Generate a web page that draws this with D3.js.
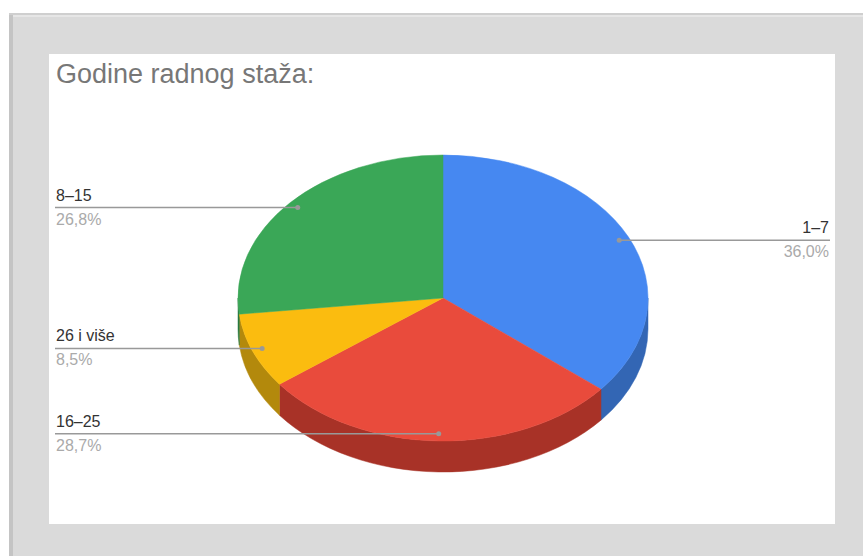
<!DOCTYPE html>
<html>
<head>
<meta charset="utf-8">
<script src="https://cdn.jsdelivr.net/npm/d3@7"></script>
<style>
  html, body { margin: 0; padding: 0; background: #ffffff; }
  svg { display: block; font-family: "Liberation Sans", Arial, sans-serif; }
</style>
</head>
<body>
<div id="chart"></div>
<script>
// Data
const categories = ['1–7', '16–25', '26 i više', '8–15'];
const shares = [36.0, 28.7, 8.5, 26.8];
const percentLabels = ['36,0%', '28,7%', '8,5%', '26,8%'];
const topColors = ['#4688f1', '#e94b3c', '#fbbc0f', '#3aa757'];
const sideColors = ['#3366b4', '#a83227', '#b3890c', '#2a7a40'];
const labelSide = ['right', 'left', 'left', 'left'];

const width = 863;
const height = 556;

const svg = d3.select('#chart')
    .append('svg')
    .attr('width', width)
    .attr('height', height);

// Gray frame around the chart card
svg.append('rect')
    .attr('x', 9).attr('y', 13)
    .attr('width', width - 9).attr('height', height - 13)
    .attr('fill', '#dadada');
svg.append('rect')
    .attr('x', 9).attr('y', 13)
    .attr('width', 4).attr('height', height - 13)
    .attr('fill', '#c4c4c4');
svg.append('rect')
    .attr('x', 9).attr('y', 13)
    .attr('width', width - 9).attr('height', 2)
    .attr('fill', '#cfcfcf');
svg.append('rect')
    .attr('x', 13).attr('y', 15)
    .attr('width', width - 13).attr('height', 2)
    .attr('fill', '#e6e6e6');

// White chart area
svg.append('rect')
    .attr('x', 49).attr('y', 54)
    .attr('width', 786).attr('height', 470)
    .attr('fill', '#ffffff');

// Title
svg.append('text')
    .attr('x', 56)
    .attr('y', 83)
    .attr('fill', '#777777')
    .style('font-size', '27px')
    .text('Godine radnog staža:');

// 3D pie geometry
const cx = 443, cy = 298;
const rx = 205, ry = 143;
const depth = 31;

// unit angle -> ellipse position, via scales
const xPos = d3.scaleLinear().domain([-1, 1]).range([cx - rx, cx + rx]);
const yPos = d3.scaleLinear().domain([-1, 1]).range([cy + ry, cy - ry]);
const pt = (a, dy = 0) => [xPos(Math.sin(a)), yPos(Math.cos(a)) + dy];

const pie = d3.pie().sort(null).value(d => d.value);
const slices = pie(shares.map((v, i) => ({ value: v, i })));

// Side walls (only the front half, angles PI/2..3PI/2)
const g = svg.append('g');
slices.forEach(s => {
    const b0 = Math.max(s.startAngle, Math.PI / 2);
    const b1 = Math.min(s.endAngle, 3 * Math.PI / 2);
    if (b1 <= b0) return;
    const p0 = pt(b0), p1 = pt(b1);
    const q0 = pt(b0, depth), q1 = pt(b1, depth);
    const path = `M${p0[0]},${p0[1]} A${rx},${ry} 0 0 1 ${p1[0]},${p1[1]}` +
        ` L${q1[0]},${q1[1]} A${rx},${ry} 0 0 0 ${q0[0]},${q0[1]} Z`;
    g.append('path')
        .attr('d', path)
        .attr('fill', sideColors[s.data.i])
        .attr('stroke', sideColors[s.data.i])
        .attr('stroke-width', 0.5);
});

// Top faces
slices.forEach(s => {
    const p0 = pt(s.startAngle), p1 = pt(s.endAngle);
    const large = (s.endAngle - s.startAngle) > Math.PI ? 1 : 0;
    const path = `M${cx},${cy} L${p0[0]},${p0[1]} A${rx},${ry} 0 ${large} 1 ${p1[0]},${p1[1]} Z`;
    g.append('path')
        .attr('d', path)
        .attr('fill', topColors[s.data.i])
        .attr('stroke', topColors[s.data.i])
        .attr('stroke-width', 0.5);
});

// Leader lines and labels
const leftX = 55, rightX = 830;
const labels = svg.append('g');
slices.forEach(s => {
    const i = s.data.i;
    const mid = (s.startAngle + s.endAngle) / 2;
    const dot = [xPos(0.95 * Math.sin(mid)), yPos(0.95 * Math.cos(mid))];
    const right = labelSide[i] === 'right';
    const endX = right ? rightX : leftX;

    labels.append('line')
        .attr('x1', dot[0]).attr('y1', dot[1])
        .attr('x2', endX).attr('y2', dot[1])
        .attr('stroke', '#999999')
        .attr('stroke-width', 1.5);
    labels.append('circle')
        .attr('cx', dot[0]).attr('cy', dot[1])
        .attr('r', 2.5)
        .attr('fill', '#999999');

    const tx = right ? rightX - 1 : leftX + 1;
    labels.append('text')
        .attr('x', tx)
        .attr('y', dot[1] - 7)
        .attr('text-anchor', right ? 'end' : 'start')
        .attr('fill', '#333333')
        .style('font-size', '16px')
        .text(categories[i]);
    labels.append('text')
        .attr('x', tx)
        .attr('y', dot[1] + 17)
        .attr('text-anchor', right ? 'end' : 'start')
        .attr('fill', '#aaaaaa')
        .style('font-size', '16px')
        .text(percentLabels[i]);
});
</script>
</body>
</html>
